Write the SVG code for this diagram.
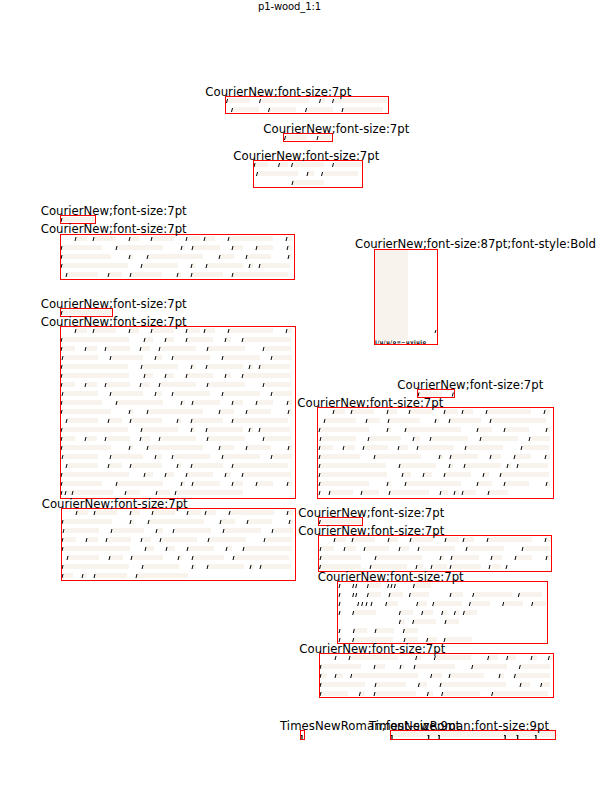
<svg xmlns="http://www.w3.org/2000/svg" width="612" height="792" viewBox="0 0 612 792">
<style>
.b{fill:none;stroke:#f8f3ec;stroke-width:5}
.t{fill:none;stroke:#000;stroke-width:1}
.r{fill:none;stroke:#f00;stroke-width:1}
.l{font-family:"DejaVu Sans",sans-serif;font-size:11.7px;fill:#000}
.m{fill:none;stroke:#000;stroke-width:1.2}
</style>
<defs>
<g id="A"><path class="b" d="M16 0H27M34 0H56M70 0H79M92 0H114M127 0H140M145 0H155M169 0H213M227 0H232"/><path class="t" d="M15 2.5l1-4M33 2.5l1-4M69 2.5l1-4M91 2.5l1-4M126 2.5l1-4M144 2.5l1-4M168 2.5l1-4M226 2.5l1-4"/></g>
<g id="B"><path class="b" d="M2 0H42M57 0H103M122 0H125M133 0H160M173 0H183M197 0H213M228 0H232"/><path class="t" d="M1 2.5l1-4M56 2.5l1-4M121 2.5l1-4M132 2.5l1-4M172 2.5l1-4M196 2.5l1-4M227 2.5l1-4"/></g>
<g id="C"><path class="b" d="M2 0H51M70 0H73M88 0H143M160 0H174M187 0H211M229 0H232"/><path class="t" d="M1 2.5l1-4M69 2.5l1-4M87 2.5l1-4M159 2.5l1-4M186 2.5l1-4M228 2.5l1-4"/></g>
<g id="D"><path class="b" d="M2 0H68M82 0H118M132 0H135M147 0H183M190 0H193M200 0H230"/><path class="t" d="M1 2.5l1-4M81 2.5l1-4M131 2.5l1-4M146 2.5l1-4M189 2.5l1-4M199 2.5l1-4"/></g>
<g id="E"><path class="b" d="M7 0H38M49 0H62M71 0H102M118 0H121M132 0H163M173 0H228"/><path class="t" d="M6 2.5l1-4M48 2.5l1-4M70 2.5l1-4M117 2.5l1-4M131 2.5l1-4M172 2.5l1-4"/></g>
<g id="F"><path class="b" d="M4 0H38M52 0H83M97 0H102M114 0H150M163 0H200M213 0H232"/><path class="t" d="M2 2.5l1-4M50 2.5l1-4M95 2.5l1-4M112 2.5l1-4M162 2.5l1-4M211 2.5l1-4"/></g>
<g id="G"><path class="b" d="M3 0H15M27 0H37M47 0H70M82 0H90M101 0H136M148 0H185M205 0H231"/><path class="t" d="M1 2.5l1-4M25 2.5l1-4M45 2.5l1-4M80 2.5l1-4M99 2.5l1-4M147 2.5l1-4M203 2.5l1-4"/></g>
<g id="H"><path class="b" d="M3 0H69M85 0H93M106 0H114M127 0H153M166 0H171M183 0H231"/><path class="t" d="M1 2.5l1-4M84 2.5l1-4M105 2.5l1-4M126 2.5l1-4M165 2.5l1-4M182 2.5l1-4"/></g>
<g id="P1"><path class="b" d="M7 0H53M67 0H80M98 0H110M117 0H183"/><path class="t" d="M1 2.5l1-4M5 2.5l1-4M12 2.5l1-4M65 2.5l1-4M96 2.5l1-4M115 2.5l1-4"/></g>
<g id="P2"><path class="b" d="M2 0H12M22 0H26M34 0H66M76 0H127"/><path class="t" d="M1 2.5l1-4M21 2.5l1-4M33 2.5l1-4M75 2.5l1-4"/></g>
<g id="P3"><path class="b" d="M12 0H35M44 0H61M72 0H111M124 0H130M138 0H141M145 0H158M171 0H190"/><path class="t" d="M1 2.5l1-4M11 2.5l1-4M43 2.5l1-4M71 2.5l1-4M122 2.5l1-4M136 2.5l1-4M144 2.5l1-4M170 2.5l1-4"/></g>
<g id="P4"><path class="b" d="M1 0H42M53 0H88M99 0H104M114 0H128M133 0H162M173 0H182"/><path class="t" d="M0.5 2.5l1-4M51 2.5l1-4M97 2.5l1-4M112 2.5l1-4M131 2.5l1-4M170 2.5l1-4M187 2.5l1-4"/></g>
</defs>
<rect width="612" height="792" fill="#fff"/>
<g id="title"><text x="258" y="10" style="font-family:'DejaVu Sans',sans-serif;font-size:10px" textLength="63">p1-wood_1:1</text></g>

<g id="n1">
<path class="b" d="M227 100.5H250M262 100.5H309M322 100.5H325M334 100.5H387M233 109.5H259M270 109.5H296M307 109.5H333M343 109.5H383"/>
<path class="t" d="M226.5 103l1-4M259.5 103l1-4M319.5 103l1-4M332.5 103l1-4M231.5 112l1-4M268.5 112l1-4M305.5 112l1-4M342 112l1-4"/>
<rect class="r" x="225.5" y="96.5" width="163" height="17"/>
<text class="l" x="205.3" y="95.5" textLength="146">CourierNew;font-size:7pt</text>
</g>

<g id="n2">
<path class="b" d="M285 137.5H307M319 137.5H331.5"/>
<path class="t" d="M284.5 140l1-4M317 140l1-4"/>
<rect class="r" x="283.5" y="133.5" width="49" height="8"/>
<text class="l" x="263.3" y="132.5" textLength="146">CourierNew;font-size:7pt</text>
</g>

<g id="n3">
<path class="b" d="M255 164.5H268M280 164.5H288M293 164.5H324M335 164.5H361M258 173.5H298M308 173.5H314M323 173.5H358M293 182.5H324"/>
<path class="t" d="M254 167l1-4M278.5 167l1-4M291.5 167l1-4M332.5 167l1-4M256.5 176l1-4M307 176l1-4M321.5 176l1-4M292 185l1-4"/>
<rect class="r" x="253.5" y="160.5" width="109" height="27"/>
<text class="l" x="233.3" y="159.5" textLength="146">CourierNew;font-size:7pt</text>
</g>

<g id="n4">
<path class="b" d="M62 219.5H95"/>
<path class="t" d="M61 222l1-4"/>
<rect class="r" x="60.5" y="215.5" width="35" height="8"/>
<text class="l" x="40.7" y="214.5" textLength="146">CourierNew;font-size:7pt</text>
</g>

<g id="n5">
<use href="#A" x="60" y="238.5"/>
<use href="#B" x="60" y="247.5"/>
<use href="#C" x="60" y="256.5"/>
<use href="#D" x="60" y="265.5"/>
<use href="#E" x="60" y="274.5"/>
<rect class="r" x="60.5" y="234.5" width="234" height="45"/>
<text class="l" x="40.7" y="233" textLength="146">CourierNew;font-size:7pt</text>
</g>

<g id="n6">
<rect x="375" y="250" width="33" height="90" fill="#f8f3ec"/>
<path class="t" d="M435 333l1-3"/>
<text x="375" y="343.6" style="font-family:'DejaVu Sans',sans-serif;font-size:5px;font-weight:bold" textLength="51">I/u/u/o=~uviuio</text>
<rect class="r" x="374.5" y="249.5" width="63" height="95"/>
<text class="l" x="355" y="248.3" textLength="241">CourierNew;font-size:87pt;font-style:Bold</text>
</g>

<g id="n7">
<path class="b" d="M62 312.5H112"/>
<path class="t" d="M61 315l1-4"/>
<rect class="r" x="60.5" y="308.5" width="52" height="8"/>
<text class="l" x="40.7" y="307.5" textLength="146">CourierNew;font-size:7pt</text>
</g>

<g id="n8">
<use href="#A" x="60" y="330.5"/>
<use href="#H" x="60" y="339.5"/>
<use href="#G" x="60" y="348.5"/>
<use href="#F" x="60" y="357.5"/>
<use href="#D" x="60" y="366.5"/>
<use href="#H" x="60" y="375.5"/>
<use href="#G" x="60" y="384.5"/>
<use href="#F" x="60" y="393.5"/>
<use href="#B" x="60" y="402.5"/>
<use href="#C" x="60" y="411.5"/>
<use href="#E" x="60" y="420.5"/>
<use href="#D" x="60" y="429.5"/>
<use href="#G" x="60" y="438.5"/>
<use href="#C" x="60" y="447.5"/>
<use href="#F" x="60" y="456.5"/>
<use href="#E" x="60" y="465.5"/>
<use href="#H" x="60" y="474.5"/>
<use href="#B" x="60" y="483.5"/>
<use href="#P1" x="60" y="492.5"/>
<rect class="r" x="60.5" y="326.5" width="235" height="172"/>
<text class="l" x="40.7" y="326" textLength="146">CourierNew;font-size:7pt</text>
</g>

<g id="n9">
<use href="#A" x="61" y="512.5"/>
<use href="#C" x="61" y="521.5"/>
<use href="#F" x="61" y="530.5"/>
<use href="#G" x="61" y="539.5"/>
<use href="#H" x="61" y="548.5"/>
<use href="#E" x="61" y="557.5"/>
<use href="#D" x="61" y="566.5"/>
<use href="#P2" x="61" y="575.5"/>
<rect class="r" x="61.5" y="508.5" width="234" height="72"/>
<text class="l" x="41.7" y="507.5" textLength="146">CourierNew;font-size:7pt</text>
</g>

<g id="n10">
<path class="b" d="M419 394H442"/>
<path class="t" d="M418 396.5l1-4M452.3 396.5l1-4"/>
<rect class="r" x="417.5" y="389.5" width="37" height="8"/>
<text class="l" x="397.3" y="389" textLength="146">CourierNew;font-size:7pt</text>
</g>

<g id="n11">
<use href="#A" x="318" y="411.5"/>
<use href="#E" x="318" y="420.5"/>
<use href="#C" x="318" y="429.5"/>
<use href="#F" x="318" y="438.5"/>
<use href="#G" x="318" y="447.5"/>
<use href="#B" x="318" y="456.5"/>
<use href="#D" x="318" y="465.5"/>
<use href="#H" x="318" y="474.5"/>
<use href="#C" x="318" y="483.5"/>
<use href="#P3" x="318" y="492.5"/>
<rect class="r" x="317.5" y="407.5" width="236" height="91"/>
<text class="l" x="297.3" y="406.5" textLength="146">CourierNew;font-size:7pt</text>
</g>

<g id="n12">
<path class="b" d="M320 521.5H361.5"/>
<path class="t" d="M319.3 524l1-4"/>
<rect class="r" x="318.5" y="517.5" width="44" height="8"/>
<text class="l" x="298.3" y="516.5" textLength="146">CourierNew;font-size:7pt</text>
</g>

<g id="n13">
<use href="#A" x="319" y="539.5"/>
<use href="#G" x="319" y="548.5"/>
<use href="#B" x="319" y="557.5"/>
<use href="#P4" x="319" y="566.5"/>
<rect class="r" x="318.5" y="535.5" width="233" height="36"/>
<text class="l" x="298.3" y="534.5" textLength="146">CourierNew;font-size:7pt</text>
</g>

<g id="n14">
<path class="b" d="M369 585.5H381M414 585.5H431M369 594.5H381M390 594.5H403M411 594.5H429M451 594.5H463M474 594.5H512M519 594.5H542M387 603.5H398M418 603.5H427M434 603.5H462M471 603.5H490M504 603.5H523M533 603.5H546M354 612.5H376M401 612.5H413M423 612.5H433M443 612.5H447M456 612.5H459M464 612.5H477M400 621.5H405M414 621.5H436M446 621.5H459M354 630.5H367M376 630.5H394M405 630.5H418M354 639.5H393M405 639.5H418M428 639.5H437M445 639.5H472"/>
<path class="t" d="M339 588l1-4M352.7 588l1-4M355.7 588l1-4M367.3 588l1-4M387.7 588l1-4M391 588l1-4M394.3 588l1-4M413.3 588l1-4M339 597l1-4M352.7 597l1-4M355.7 597l1-4M367.3 597l1-4M389 597l1-4M409.3 597l1-4M450 597l1-4M472.7 597l1-4M518.3 597l1-4M339 606l1-4M357.7 606l1-4M361.7 606l1-4M366 606l1-4M371 606l1-4M385.7 606l1-4M416.7 606l1-4M432.7 606l1-4M469.3 606l1-4M502.7 606l1-4M531.7 606l1-4M339 615l1-4M352.7 615l1-4M399.3 615l1-4M421.7 615l1-4M441.7 615l1-4M454.3 615l1-4M463.3 615l1-4M399.3 624l1-4M412.7 624l1-4M445 624l1-4M339 633l1-4M353.3 633l1-4M375 633l1-4M403.3 633l1-4M339 642l1-4M352.7 642l1-4M404 642l1-4M426.7 642l1-4M444 642l1-4"/>
<rect class="r" x="337.5" y="581.5" width="210" height="62"/>
<text class="l" x="317.7" y="580.5" textLength="146">CourierNew;font-size:7pt</text>
</g>

<g id="n15">
<path class="b" d="M350 657.5H398M417 657.5H421M436 657.5H471M489 657.5H498M508 657.5H516M532 657.5H537M549 657.5H553M321 666.5H361M375 666.5H385M402 666.5H404M415 666.5H455M472 666.5H507M521 666.5H550M321 675.5H327M336 675.5H343M352 675.5H418M432 675.5H442M450 675.5H484M500 675.5H504M515 675.5H550M321 684.5H365M376 684.5H406M419 684.5H427M441 684.5H506M521 684.5H530M542 684.5H550M321 693.5H348M360 693.5H365M375 693.5H416M428 693.5H433M443 693.5H480M493 693.5H548"/>
<path class="t" d="M335 660l1-4M349 660l1-4M415.7 660l1-4M434.3 660l1-4M487.7 660l1-4M506.7 660l1-4M531 660l1-4M548.3 660l1-4M320 669l1-4M374 669l1-4M400 669l1-4M414 669l1-4M471.7 669l1-4M519.3 669l1-4M320 678l1-4M335 678l1-4M350.7 678l1-4M430.7 678l1-4M449 678l1-4M499 678l1-4M514.3 678l1-4M320 687l1-4M375 687l1-4M418.3 687l1-4M440 687l1-4M520 687l1-4M540.7 687l1-4M320 696l1-4M359.3 696l1-4M374 696l1-4M427.3 696l1-4M441.7 696l1-4M491.7 696l1-4"/>
<rect class="r" x="319.5" y="653.5" width="234" height="44"/>
<text class="l" x="299.3" y="652.5" textLength="146">CourierNew;font-size:7pt</text>
</g>

<g id="n16">
<path class="m" d="M300.8 735.5h1.2v3.5"/>
<rect class="r" x="300.5" y="730.5" width="4" height="9"/>
<text class="l" x="280" y="729.5" textLength="180">TimesNewRoman;font-size:9pt</text>
</g>

<g id="n17">
<rect x="391" y="731" width="164" height="6" fill="#f8f3ec"/>
<path class="m" d="M390.8 735.5h1.2v3.5M427.5 735.5h1.2v3.5M438 735.5h1.2v3.5M504 735.5h1.2v3.5M516.5 735.5h1.2v3.5M534.8 735.5h1.2v3.5"/>
<rect class="r" x="390.5" y="730.5" width="165" height="9"/>
<text class="l" x="369" y="729.5" textLength="180">TimesNewRoman;font-size:9pt</text>
</g>

<g id="connectors"/>
</svg>
